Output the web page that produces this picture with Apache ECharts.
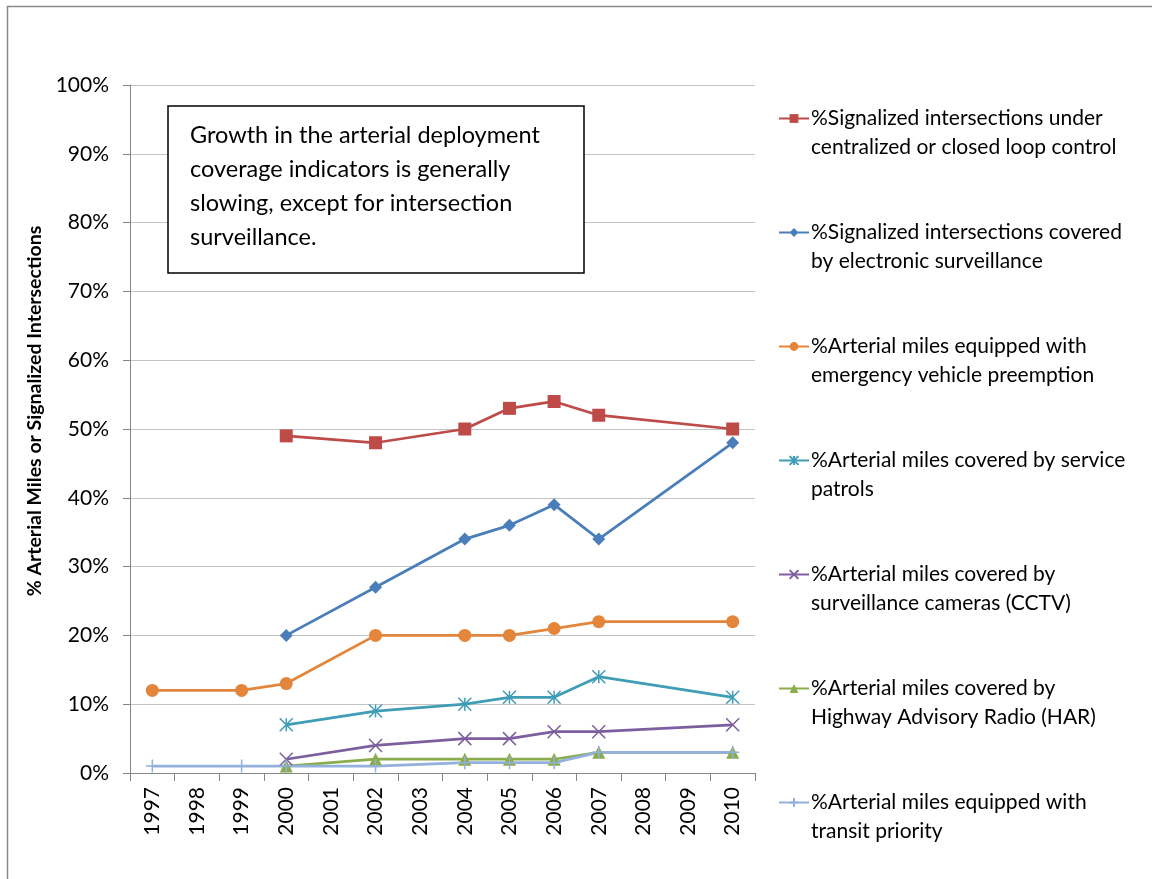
<!DOCTYPE html>
<html>
<head>
<meta charset="utf-8">
<script src="https://cdn.jsdelivr.net/npm/echarts@6/dist/echarts.min.js"></script>
<style>
html,body{margin:0;padding:0;background:#fff;}
#chart{width:1152px;height:879px;}
</style>
</head>
<body>
<div id="chart"></div>
<script>
const years = ['1997','1998','1999','2000','2001','2002','2003','2004','2005','2006','2007','2008','2009','2010'];
const yTicks = [0,10,20,30,40,50,60,70,80,90,100];

const seriesNames = [
  '%Signalized intersections under\ncentralized or closed loop control',
  '%Signalized intersections covered\nby electronic surveillance',
  '%Arterial miles equipped with\nemergency vehicle preemption',
  '%Arterial miles covered by service\npatrols',
  '%Arterial miles covered by\nsurveillance cameras (CCTV)',
  '%Arterial miles covered by\nHighway Advisory Radio (HAR)',
  '%Arterial miles equipped with\ntransit priority'
];

//                    1997  1998  1999  2000  2001  2002  2003  2004  2005  2006  2007  2008  2009  2010
const centralized  = [null, null, null, 49,   null, 48,   null, 50,   53,   54,   52,   null, null, 50];
const surveillance = [null, null, null, 20,   null, 27,   null, 34,   36,   39,   34,   null, null, 48];
const preemption   = [12,   null, 12,   13,   null, 20,   null, 20,   20,   21,   22,   null, null, 22];
const patrols      = [null, null, null, 7,    null, 9,    null, 10,   11,   11,   14,   null, null, 11];
const cctv         = [null, null, null, 2,    null, 4,    null, 5,    5,    6,    6,    null, null, 7];
const har          = [null, null, null, 1,    null, 2,    null, 2,    2,    2,    3,    null, null, 3];
const transit      = [1,    null, 1,    1,    null, 1,    null, 1.5,  1.5,  1.5,  3,    null, null, 3];

const noteText = 'Growth in the arterial deployment\ncoverage indicators is generally\nslowing, except for intersection\nsurveillance.';
const yAxisTitle = '% Arterial Miles or Signalized Intersections';

const FONT = 'Lato, "Open Sans", sans-serif';
const colors = ['#BE4B48', '#4A7EBB', '#E3853A', '#3F9DB6', '#7D5E9E', '#8AAC4C', '#93B1DC'];
const symbols = [
  'rect',
  'diamond',
  'circle',
  'path://M5,0L5,10M0,0L10,10M10,0L0,10',
  'path://M0,0L10,10M10,0L0,10',
  'triangle',
  'path://M5,0L5,10M0,5L10,5'
];
const symbolSizes = [13, 13, 13, 13, 13, 13, 13];
const strokeSymbol = [false, false, false, true, true, false, true];
const dataSets = [centralized, surveillance, preemption, patrols, cctv, har, transit];

const series = dataSets.map((d, i) => ({
  name: seriesNames[i],
  type: 'line',
  data: d,
  connectNulls: true,
  symbol: symbols[i],
  symbolSize: symbolSizes[i],
  showAllSymbol: true,
  lineStyle: { color: colors[i], width: 2.75 },
  itemStyle: strokeSymbol[i]
    ? { color: colors[i], borderColor: colors[i], borderWidth: 1.5 }
    : { color: colors[i] },
  emphasis: { disabled: true },
  animation: false
}));

const chart = echarts.init(document.getElementById('chart'));
chart.setOption({
  backgroundColor: '#ffffff',
  animation: false,
  grid: { left: 130, right: 397, top: 85, bottom: 106, containLabel: false },
  xAxis: {
    type: 'category',
    data: years,
    boundaryGap: true,
    axisLine: { lineStyle: { color: '#868686', width: 1 } },
    axisTick: { show: true, alignWithLabel: false, length: 8, lineStyle: { color: '#868686' } },
    axisLabel: { rotate: 90, interval: 0, margin: 14, color: '#000', fontSize: 21, fontFamily: FONT }
  },
  yAxis: {
    type: 'value',
    min: 0, max: 100, interval: 10,
    axisLine: { show: true, lineStyle: { color: '#868686', width: 1 } },
    axisTick: { show: true, length: 7, lineStyle: { color: '#868686' } },
    splitLine: { show: true, lineStyle: { color: '#c4c4c4', width: 1.2 } },
    axisLabel: { formatter: v => v + '%', margin: 21, color: '#000', fontSize: 21, fontFamily: FONT }
  },
  legend: {
    orient: 'vertical',
    left: 773,
    top: 70,
    itemWidth: 30,
    itemHeight: 11,
    itemGap: 27,
    selectedMode: false,
    formatter: name => ' \n' + name,
    textStyle: { fontSize: 21, lineHeight: 29, color: '#000', fontFamily: FONT, padding: [0, 0, 0, -3] },
    data: seriesNames
  },
  graphic: [
    {
      type: 'rect',
      shape: { x: 7.5, y: 6.5, width: 1300, height: 1000 },
      style: { fill: null, stroke: '#8a8a8a', lineWidth: 1.5 },
      silent: true
    },
    {
      type: 'rect',
      shape: { x: 168, y: 106, width: 416, height: 167 },
      style: { fill: '#fff', stroke: '#000', lineWidth: 1.5 },
      z: 10, silent: true
    },
    {
      type: 'text',
      x: 190, y: 118,
      style: { text: noteText, font: '23.5px ' + FONT, fill: '#000', lineHeight: 34, textVerticalAlign: 'top' },
      z: 11, silent: true
    },
    {
      type: 'text',
      x: 35, y: 411,
      rotation: Math.PI / 2,
      style: { text: yAxisTitle, font: 'bold 19.5px ' + FONT, fill: '#000', textAlign: 'center', textVerticalAlign: 'middle' },
      silent: true
    }
  ],
  series: series
});
</script>
</body>
</html>
